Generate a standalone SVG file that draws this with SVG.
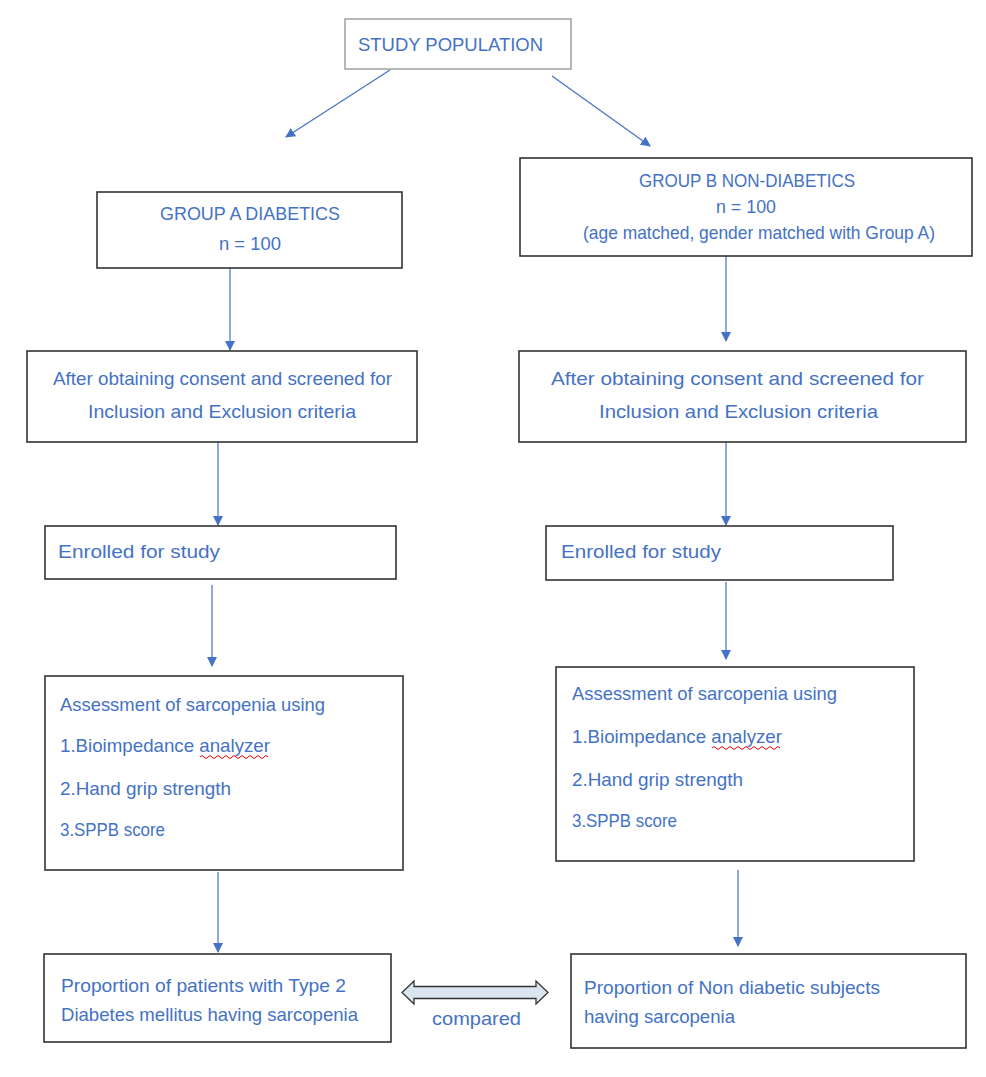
<svg xmlns="http://www.w3.org/2000/svg" width="986" height="1077" viewBox="0 0 986 1077">
<defs>
<marker id="ah" viewBox="0 0 10 10" refX="9" refY="5" markerWidth="10" markerHeight="10" markerUnits="userSpaceOnUse" orient="auto">
<path d="M0,0 L10,5 L0,10 z" fill="#4472c4"/>
</marker>
</defs>
<style>
.box{fill:#fff;stroke:#333;stroke-width:1.6}
.t{font-family:"Liberation Sans",Arial,sans-serif;font-size:18.5px;fill:#4472c4}
.c{text-anchor:middle}
.con{stroke:#4472c4;stroke-width:1.2;fill:none;marker-end:url(#ah)}
.wave{stroke:#e00;stroke-width:1;fill:none}
</style>
<rect width="986" height="1077" fill="#fff"/>
<g id="connectors">
<line class="con" x1="390" y1="70" x2="286" y2="137"/>
<line class="con" x1="552" y1="76" x2="650" y2="146"/>
<line class="con" x1="230" y1="268" x2="230" y2="350"/>
<line class="con" x1="726" y1="256" x2="726" y2="341"/>
<line class="con" x1="218" y1="442" x2="218" y2="525"/>
<line class="con" x1="726" y1="442" x2="726" y2="525"/>
<line class="con" x1="212" y1="585" x2="212" y2="666"/>
<line class="con" x1="726" y1="582" x2="726" y2="659"/>
<line class="con" x1="218" y1="872" x2="218" y2="952"/>
<line class="con" x1="738" y1="870" x2="738" y2="946"/>
<path d="M402,992.5 L414,981 L414,986.5 L536,986.5 L536,981 L548,992.5 L536,1004 L536,998.5 L414,998.5 L414,1004 Z" fill="#dbe5f1" stroke="#333" stroke-width="1.3"/>
<text class="t" x="432" y="1025" textLength="89" lengthAdjust="spacingAndGlyphs">compared</text>
</g>
<g id="study">
<rect x="345" y="19" width="226" height="50" fill="#fff" stroke="#888" stroke-width="1.2"/>
<text class="t" x="358" y="51" font-size="19.5" textLength="185" lengthAdjust="spacingAndGlyphs">STUDY POPULATION</text>
</g>
<g id="groupA">
<rect class="box" x="97" y="192" width="305" height="76"/>
<text class="t" x="160" y="220" textLength="180" lengthAdjust="spacingAndGlyphs">GROUP A DIABETICS</text>
<text class="t" x="219" y="250" textLength="62" lengthAdjust="spacingAndGlyphs">n = 100</text>
</g>
<g id="groupB">
<rect class="box" x="520" y="158" width="452" height="98"/>
<text class="t" x="639" y="187" textLength="216" lengthAdjust="spacingAndGlyphs">GROUP B NON-DIABETICS</text>
<text class="t" x="716" y="213" textLength="60" lengthAdjust="spacingAndGlyphs">n = 100</text>
<text class="t" x="583" y="239" textLength="352" lengthAdjust="spacingAndGlyphs">(age matched, gender matched with Group A)</text>
</g>
<g id="screenA">
<rect class="box" x="27" y="351" width="390" height="91"/>
<text class="t" x="53" y="385" textLength="339" lengthAdjust="spacingAndGlyphs">After obtaining consent and screened for</text>
<text class="t" x="88" y="418" textLength="268" lengthAdjust="spacingAndGlyphs">Inclusion and Exclusion criteria</text>
</g>
<g id="screenB">
<rect class="box" x="519" y="351" width="447" height="91"/>
<text class="t" x="551" y="385" textLength="373" lengthAdjust="spacingAndGlyphs">After obtaining consent and screened for</text>
<text class="t" x="599" y="418" textLength="279" lengthAdjust="spacingAndGlyphs">Inclusion and Exclusion criteria</text>
</g>
<g id="enrollA">
<rect class="box" x="45" y="526" width="351" height="53"/>
<text class="t" x="58" y="558" textLength="162" lengthAdjust="spacingAndGlyphs">Enrolled for study</text>
</g>
<g id="enrollB">
<rect class="box" x="546" y="526" width="347" height="54"/>
<text class="t" x="561" y="558" textLength="160" lengthAdjust="spacingAndGlyphs">Enrolled for study</text>
</g>
<g id="assessA">
<rect class="box" x="45" y="676" width="358" height="194"/>
<text class="t" x="60" y="711" textLength="265" lengthAdjust="spacingAndGlyphs">Assessment of sarcopenia using</text>
<text class="t" x="60" y="752" textLength="210" lengthAdjust="spacingAndGlyphs">1.Bioimpedance analyzer</text>
<text class="t" x="60" y="795" textLength="171" lengthAdjust="spacingAndGlyphs">2.Hand grip strength</text>
<text class="t" x="60" y="836" textLength="105" lengthAdjust="spacingAndGlyphs">3.SPPB score</text>
<path class="wave" d="M200,757 q2,-3 4,0 t4,0 t4,0 t4,0 t4,0 t4,0 t4,0 t4,0 t4,0 t4,0 t4,0 t4,0 t4,0 t4,0 t4,0 t4,0 t4,0"/>
</g>
<g id="assessB">
<rect class="box" x="556" y="667" width="358" height="194"/>
<text class="t" x="572" y="700" textLength="265" lengthAdjust="spacingAndGlyphs">Assessment of sarcopenia using</text>
<text class="t" x="572" y="743" textLength="210" lengthAdjust="spacingAndGlyphs">1.Bioimpedance analyzer</text>
<text class="t" x="572" y="786" textLength="171" lengthAdjust="spacingAndGlyphs">2.Hand grip strength</text>
<text class="t" x="572" y="827" textLength="105" lengthAdjust="spacingAndGlyphs">3.SPPB score</text>
<path class="wave" d="M712,748 q2,-3 4,0 t4,0 t4,0 t4,0 t4,0 t4,0 t4,0 t4,0 t4,0 t4,0 t4,0 t4,0 t4,0 t4,0 t4,0 t4,0 t4,0"/>
</g>
<g id="resultA">
<rect class="box" x="44" y="954" width="347" height="88"/>
<text class="t" x="61" y="992" textLength="285" lengthAdjust="spacingAndGlyphs">Proportion of patients with Type 2</text>
<text class="t" x="61" y="1021" textLength="297" lengthAdjust="spacingAndGlyphs">Diabetes mellitus having sarcopenia</text>
</g>
<g id="resultB">
<rect class="box" x="571" y="954" width="395" height="94"/>
<text class="t" x="584" y="994" textLength="296" lengthAdjust="spacingAndGlyphs">Proportion of Non diabetic subjects</text>
<text class="t" x="584" y="1023" textLength="151" lengthAdjust="spacingAndGlyphs">having sarcopenia</text>
</g>
</svg>
